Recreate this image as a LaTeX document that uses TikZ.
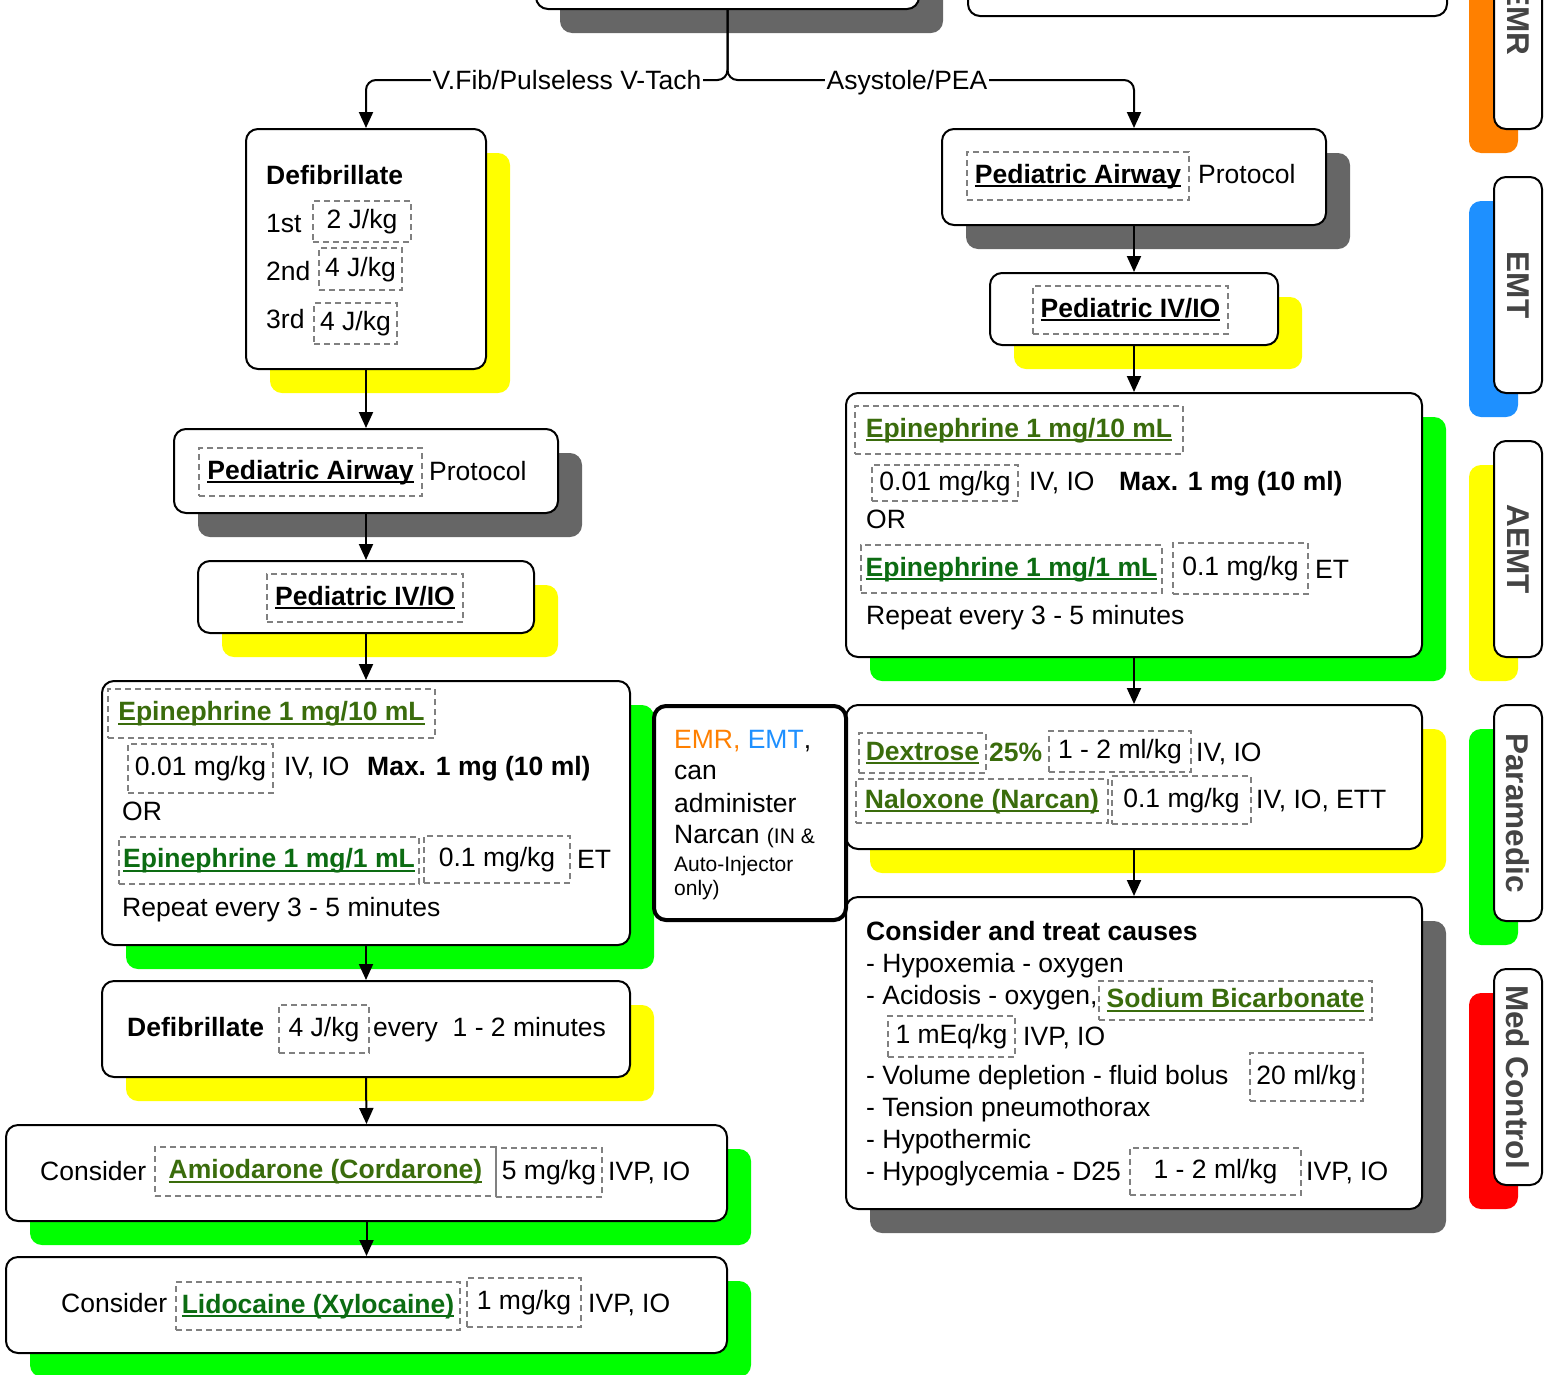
\documentclass[tikz,border=0pt]{standalone}
\usepackage{fontspec}
\setmainfont{Liberation Sans}
\usetikzlibrary{arrows.meta}

\definecolor{drugolive}{RGB}{58,108,12}
\definecolor{druggreen}{RGB}{12,108,18}
\definecolor{dashgray}{RGB}{128,128,128}
\definecolor{shadegray}{RGB}{102,102,102}
\definecolor{shadeyellow}{RGB}{255,255,0}
\definecolor{shadegreen}{RGB}{0,255,0}
\definecolor{shadeorange}{RGB}{255,128,0}
\definecolor{shadeblue}{RGB}{30,144,255}
\definecolor{shadered}{RGB}{255,0,0}
\definecolor{tabtextgray}{RGB}{68,68,68}
\definecolor{emrorange}{RGB}{255,128,0}
\definecolor{emtblue}{RGB}{30,144,255}

% underline drawn just below the baseline, crossing the descenders
\newcommand\drugline[1]{\setbox0=\hbox{#1}\rlap{\rule[-4pt]{\wd0}{2pt}}\box0}

% rounded panel with an offset coloured shadow: name, x1, y1, x2, y2, shadow colour
\newcommand\panel[6]{%
  \fill[#6,rounded corners=12pt] ({#2+24},{#3+24}) rectangle ({#4+24},{#5+24});
  \node[panelbox,minimum width={#4-(#2)},minimum height={#5-(#3)}] (#1) at ({(#2+#4)/2},{(#3+#5)/2}) {};}

% dashed frame around a dose or drug name: name, x1, y1, x2, y2, content
\newcommand\dosebox[6]{%
  \node[dbox,minimum width={#4-(#2)},minimum height={#5-(#3)}] (#1) at ({(#2+#4)/2},{(#3+#5)/2}) {#6};}

% provider-level tab on the right edge: name, top, bottom, colour, label
\newcommand\tabstrip[5]{%
  \fill[#4,rounded corners=12pt] (1469,{#2+24}) rectangle (1518,{#3+24});
  \node[tabbox,minimum height={#3-(#2)}] (#1) at (1518,{(#2+#3)/2}) {};
  \node[tablabel] (#1-label) at (#1.center) {#5};}

\tikzset{
  panelbox/.style={draw=black,line width=2pt,fill=white,rounded corners=12pt,inner sep=0pt},
  dbox/.style={draw=dashgray,line width=1.8pt,dash pattern=on 6pt off 4pt,inner sep=0pt,
               text height=19pt,text depth=5pt},
  txt/.style={anchor=base west,inner sep=0pt},
  small/.style={anchor=base west,inner sep=0pt,font=\fontsize{21}{24}\selectfont},
  flow/.style={line width=2pt,-{Triangle[length=16pt,width=14pt]}},
  lbl/.style={fill=white,inner sep=2pt,anchor=base},
  tabbox/.style={draw=black,line width=2pt,fill=white,rounded corners=12pt,
                 minimum width=48pt,inner sep=0pt},
  tablabel/.style={rotate=-90,text=tabtextgray,inner sep=0pt,
                   font=\fontsize{31.5}{36}\selectfont\bfseries},
}

\begin{document}
\begin{tikzpicture}[x=1pt,y=-1pt,font=\fontsize{26.5}{31}\selectfont]
\useasboundingbox (0,0) rectangle (1554,1374);
\clip (0,0) rectangle (1554,1374);

% ---------- panels ----------
\panel{topL}{536}{-88}{919}{9}{shadegray}
\node[panelbox,minimum width=479,minimum height=96] (topR) at (1207.5,-32) {};

% left branch
\panel{defA}{246}{129}{486}{369}{shadeyellow}
\panel{airL}{174}{429}{558}{513}{shadegray}
\panel{ivL}{198}{561}{534}{633}{shadeyellow}
\panel{epiL}{102}{681}{630}{945}{shadegreen}
\panel{defB}{102}{981}{630}{1077}{shadeyellow}
\panel{amio}{6}{1125}{727}{1221}{shadegreen}
\panel{lido}{6}{1257}{727}{1353}{shadegreen}

% right branch
\panel{airR}{942}{129}{1326}{225}{shadegray}
\panel{ivR}{990}{273}{1278}{345}{shadeyellow}
\panel{epiR}{846}{393}{1422}{657}{shadegreen}
\panel{dexR}{846}{705}{1422}{849}{shadeyellow}
\panel{causes}{846}{897}{1422}{1209}{shadegray}

% narcan note
\node[panelbox,line width=4pt,minimum width=192,minimum height=214] (narcan) at (750,813) {};

% ---------- connectors ----------
\draw[flow,rounded corners=10pt] (topL.south) |- (366,80) -- (defA.north);
\draw[flow,rounded corners=10pt] (topL.south) |- (1134,80) -- (airR.north);
\node[lbl] (vflabel) at (567,89) {V.Fib/Pulseless V-Tach};
\node[lbl] (aslabel) at (907,89) {Asystole/PEA};

\draw[flow] (defA.south) -- (airL.north);
\draw[flow] (airL.south) -- (ivL.north);
\draw[flow] (ivL.south) -- (epiL.north);
\draw[flow] (epiL.south) -- (defB.north);
\draw[flow] (defB.south) -- (amio.north);
\draw[flow] (amio.south) -- (lido.north);

\draw[flow] (airR.south) -- (ivR.north);
\draw[flow] (ivR.south) -- (epiR.north);
\draw[flow] (epiR.south) -- (dexR.north);
\draw[flow] (dexR.south) -- (causes.north);

% ---------- left column text ----------
\node[txt] (defA-t) at (266,184) {\bfseries Defibrillate};
\node[txt] (defA-1) at (266,232) {1st};
\dosebox{defA-d1}{313}{201}{411}{242}{2 J/kg}
\node[txt] (defA-2) at (266,280) {2nd};
\dosebox{defA-d2}{319}{248}{402}{290}{4 J/kg}
\node[txt] (defA-3) at (266,328) {3rd};
\dosebox{defA-d3}{314}{303}{397}{344}{4 J/kg}

\dosebox{airL-d}{199}{448}{422}{496}{\drugline{\bfseries Pediatric Airway}}
\node[txt] (airL-t) at (429,480) {Protocol};

\dosebox{ivL-d}{267}{574}{463}{622}{\drugline{\bfseries Pediatric IV/IO}}

\dosebox{epiL-d1}{108}{689}{435}{738}{\textcolor{drugolive}{\drugline{\bfseries Epinephrine 1 mg/10 mL}}}
\dosebox{epiL-d2}{128}{744}{273}{793}{0.01 mg/kg}
\node[txt] (epiL-r1) at (284,775) {IV, IO};
\node[txt] (epiL-m1) at (367,775) {\bfseries Max. 1 mg (10 ml)};
\node[txt] (epiL-or) at (122,820) {OR};
\dosebox{epiL-d3}{119}{837}{419}{884}{\textcolor{druggreen}{\drugline{\bfseries Epinephrine 1 mg/1 mL}}}
\dosebox{epiL-d4}{424}{836}{570}{883}{0.1 mg/kg}
\node[txt] (epiL-r2) at (577,868) {ET};
\node[txt] (epiL-rep) at (122,916) {Repeat every 3 - 5 minutes};

\node[txt] (defB-t) at (127,1036) {\bfseries Defibrillate};
\dosebox{defB-d}{279}{1005}{369}{1053}{4 J/kg}
\node[txt] (defB-e) at (373,1036) {every\ \ 1 - 2 minutes};

\node[txt] (amio-c) at (40,1180) {Consider};
\dosebox{amio-d1}{155}{1147}{496}{1196}{\textcolor{drugolive}{\drugline{\bfseries Amiodarone (Cordarone)}}}
\dosebox{amio-d2}{496}{1148}{602}{1197}{5 mg/kg}
\node[txt] (amio-r) at (608,1180) {IVP, IO};

\node[txt] (lido-c) at (61,1312) {Consider};
\dosebox{lido-d1}{176}{1282}{460}{1330}{\textcolor{druggreen}{\drugline{\bfseries Lidocaine (Xylocaine)}}}
\dosebox{lido-d2}{467}{1278}{581}{1327}{1 mg/kg}
\node[txt] (lido-r) at (588,1312) {IVP, IO};

% ---------- right column text ----------
\dosebox{airR-d}{967}{152}{1189}{200}{\drugline{\bfseries Pediatric Airway}}
\node[txt] (airR-t) at (1198,183) {Protocol};

\dosebox{ivR-d}{1033}{286}{1228}{334}{\drugline{\bfseries Pediatric IV/IO}}

\dosebox{epiR-d1}{855}{406}{1183}{454}{\textcolor{drugolive}{\drugline{\bfseries Epinephrine 1 mg/10 mL}}}
\dosebox{epiR-d2}{872}{465}{1018}{501}{0.01 mg/kg}
\node[txt] (epiR-r1) at (1029,490) {IV, IO};
\node[txt] (epiR-m1) at (1119,490) {\bfseries Max. 1 mg (10 ml)};
\node[txt] (epiR-or) at (866,528) {OR};
\dosebox{epiR-d3}{861}{545}{1162}{593}{\textcolor{druggreen}{\drugline{\bfseries Epinephrine 1 mg/1 mL}}}
\dosebox{epiR-d4}{1173}{543}{1308}{594}{0.1 mg/kg}
\node[txt] (epiR-r2) at (1315,578) {ET};
\node[txt] (epiR-rep) at (866,624) {Repeat every 3 - 5 minutes};

\dosebox{dexR-d1}{859}{733}{986}{773}{\textcolor{drugolive}{\drugline{\bfseries Dextrose}}}
\node[txt] (dexR-p) at (989,761) {\color{drugolive}\bfseries 25\%};
\dosebox{dexR-d2}{1049}{731}{1191}{772}{1 - 2 ml/kg}
\node[txt] (dexR-r1) at (1196,761) {IV, IO};
\dosebox{dexR-d3}{856}{779}{1108}{823}{\textcolor{drugolive}{\drugline{\bfseries Naloxone (Narcan)}}}
\dosebox{dexR-d4}{1112}{776}{1251}{824}{0.1 mg/kg}
\node[txt] (dexR-r2) at (1256,808) {IV, IO, ETT};

\node[txt] (causes-t) at (866,940) {\bfseries Consider and treat causes};
\node[txt] (causes-1) at (866,972) {- Hypoxemia - oxygen};
\node[txt] (causes-2) at (866,1004) {- Acidosis - oxygen,};
\dosebox{causes-d1}{1099}{981}{1372}{1020}{\textcolor{drugolive}{\drugline{\bfseries Sodium Bicarbonate}}}
\dosebox{causes-d2}{888}{1016}{1015}{1057}{1 mEq/kg}
\node[txt] (causes-r1) at (1023,1045) {IVP, IO};
\node[txt] (causes-3) at (866,1084) {- Volume depletion - fluid bolus};
\dosebox{causes-d3}{1250}{1053}{1363}{1101}{20 ml/kg}
\node[txt] (causes-4) at (866,1116) {- Tension pneumothorax};
\node[txt] (causes-5) at (866,1148) {- Hypothermic};
\node[txt] (causes-6) at (866,1180) {- Hypoglycemia - D25};
\dosebox{causes-d4}{1130}{1148}{1301}{1195}{1 - 2 ml/kg}
\node[txt] (causes-r2) at (1306,1180) {IVP, IO};

% ---------- narcan note text ----------
\node[txt] (narcan-1) at (674,748) {\textcolor{emrorange}{EMR,} \textcolor{emtblue}{EMT},};
\node[txt] (narcan-2) at (674,779) {can};
\node[txt] (narcan-3) at (674,812) {administer};
\node[txt] (narcan-4) at (674,843) {Narcan {\fontsize{21}{24}\selectfont (IN \&}};
\node[small] (narcan-5) at (674,871) {Auto-Injector};
\node[small] (narcan-6) at (674,895) {only)};

% ---------- provider tabs ----------
\tabstrip{tabEMR}{-88}{129}{shadeorange}{EMR}
\tabstrip{tabEMT}{177}{393}{shadeblue}{EMT}
\tabstrip{tabAEMT}{441}{657}{shadeyellow}{AEMT}
\tabstrip{tabPara}{705}{921}{shadegreen}{Paramedic}
\tabstrip{tabMed}{969}{1185}{shadered}{Med Control}
\end{tikzpicture}
\end{document}
